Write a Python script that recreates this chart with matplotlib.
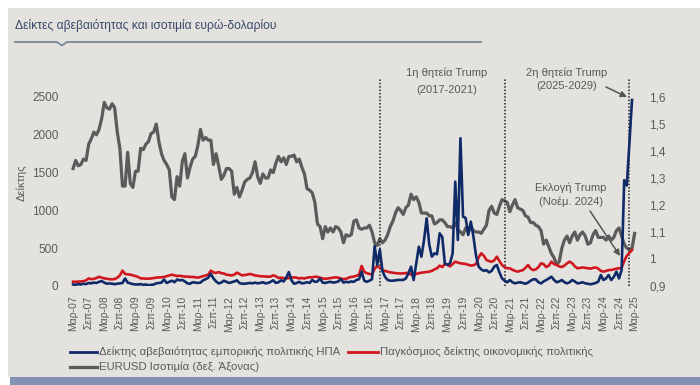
import numpy as np
import matplotlib
matplotlib.use('Agg')
import matplotlib.pyplot as plt
from matplotlib.patches import Rectangle, FancyArrowPatch
from matplotlib.lines import Line2D
from matplotlib import font_manager

names = {f.name for f in font_manager.fontManager.ttflist}
FONT = 'Liberation Sans Narrow' if 'Liberation Sans Narrow' in names else 'Liberation Sans'
plt.rcParams['font.family'] = [FONT, 'DejaVu Sans']

# ---------------- data (monthly, starting Mar-2007) ----------------
title = "Δείκτες αβεβαιότητας και ισοτιμία ευρώ-δολαρίου"
series_names = ["Δείκτης αβεβαιότητας εμπορικής πολιτικής ΗΠΑ",
                "Παγκόσμιος δείκτης οικονομικής πολιτικής",
                "EURUSD Ισοτιμία (δεξ. Άξονας)"]

# US trade policy uncertainty (Mar-07 .. Feb-25)
tpu_us = [
    20, 15, 25, 20, 30, 25, 40, 35, 45, 40,                       # 2007
    55, 65, 45, 30, 35, 30, 25, 30, 35, 40, 100, 45,              # 2008
    35, 25, 20, 20, 25, 15, 20, 10, 15, 20, 35, 40,               # 2009
    45, 85, 40, 55, 70, 50, 85, 75, 80, 60, 35, 30,               # 2010
    50, 45, 40, 45, 75, 90, 110, 160, 100, 60, 35, 45,            # 2011
    70, 55, 40, 50, 60, 75, 40, 30, 30, 35, 40, 35,               # 2012
    45, 35, 40, 50, 35, 40, 55, 75, 40, 50, 75, 60,               # 2013
    110, 185, 75, 30, 40, 55, 35, 40, 50, 40, 80, 55,             # 2014
    60, 100, 45, 40, 50, 55, 45, 50, 60, 90, 45, 55,              # 2015
    50, 60, 55, 80, 90, 190, 70, 55, 70, 90, 530, 280,            # 2016
    480, 200, 120, 80, 70, 70, 75, 80, 80, 80, 100, 168,          # 2017
    256, 79, 300, 520, 388, 609, 895, 550, 388, 432, 420, 697,    # 2018
    650, 300, 280, 300, 432, 1380, 609, 1954, 917, 900, 675, 851, # 2019
    653, 400, 256, 220, 200, 210, 180, 200, 256, 278, 180, 101,   # 2020
    70, 50, 79, 50, 35, 45, 50, 40, 30, 45, 70, 88,               # 2021
    88, 50, 35, 60, 79, 100, 123, 80, 50, 60, 79, 50,             # 2022
    35, 50, 79, 60, 35, 40, 50, 35, 30, 22, 30, 40,               # 2023
    57, 145, 79, 100, 145, 79, 120, 190, 100, 212, 1400, 1330,    # 2024
    1900, 2460,                                                   # 2025
]

# Global economic policy uncertainty (Mar-07 .. Feb-25)
gepu = [
    57, 55, 58, 60, 63, 75, 100, 90, 95, 105,                     # 2007
    123, 110, 101, 95, 90, 88, 92, 110, 140, 203, 159, 154,       # 2008
    150, 140, 132, 120, 101, 100, 97, 97, 100, 105, 110, 115,     # 2009
    115, 120, 130, 140, 150, 140, 132, 135, 130, 123, 125, 120,   # 2010
    120, 115, 110, 120, 130, 140, 150, 203, 180, 172, 185, 170,   # 2011
    165, 150, 145, 140, 150, 176, 160, 140, 145, 150, 160, 150,   # 2012
    140, 135, 130, 128, 125, 123, 125, 140, 130, 106, 110, 105,   # 2013
    100, 105, 110, 115, 110, 100, 105, 100, 110, 115, 115, 123,   # 2014
    120, 110, 100, 95, 100, 105, 110, 115, 110, 100, 90, 95,      # 2015
    110, 120, 125, 135, 150, 265, 190, 168, 160, 150, 230, 265,   # 2016
    240, 212, 200, 190, 180, 176, 170, 168, 165, 168, 170, 176,   # 2017
    150, 145, 160, 170, 176, 180, 185, 190, 200, 220, 234, 270,   # 2018
    250, 291, 280, 260, 290, 322, 310, 300, 295, 291, 280, 270,   # 2019
    275, 290, 380, 432, 400, 344, 330, 320, 340, 388, 330, 278,   # 2020
    250, 234, 234, 215, 200, 190, 200, 210, 240, 278, 230, 210,   # 2021
    220, 250, 300, 290, 250, 270, 322, 290, 278, 260, 250, 270,   # 2022
    300, 322, 300, 260, 234, 240, 245, 240, 234, 230, 240, 245,   # 2023
    230, 200, 190, 200, 210, 212, 220, 230, 234, 240, 330, 400,   # 2024
    440, 476,                                                     # 2025
]

# EURUSD (Mar-07 .. Mar-25)
eurusd = [
    1.335, 1.365, 1.345, 1.350, 1.370, 1.365, 1.425, 1.445, 1.470, 1.460,
    1.480, 1.520, 1.580, 1.560, 1.555, 1.575, 1.560, 1.470, 1.410, 1.270, 1.270, 1.395,
    1.280, 1.265, 1.325, 1.325, 1.410, 1.405, 1.425, 1.435, 1.465, 1.470, 1.500, 1.435,
    1.390, 1.365, 1.350, 1.330, 1.230, 1.220, 1.305, 1.270, 1.360, 1.390, 1.300, 1.340,
    1.370, 1.380, 1.420, 1.480, 1.440, 1.450, 1.440, 1.440, 1.350, 1.390, 1.345, 1.295,
    1.310, 1.335, 1.335, 1.325, 1.240, 1.265, 1.230, 1.255, 1.285, 1.295, 1.300, 1.320,
    1.360, 1.305, 1.280, 1.315, 1.300, 1.300, 1.330, 1.320, 1.355, 1.380, 1.360, 1.375,
    1.350, 1.380, 1.380, 1.385, 1.360, 1.370, 1.340, 1.315, 1.260, 1.255, 1.245, 1.210,
    1.130, 1.120, 1.075, 1.120, 1.100, 1.115, 1.100, 1.120, 1.115, 1.100, 1.060, 1.090,
    1.085, 1.090, 1.140, 1.145, 1.115, 1.110, 1.115, 1.115, 1.125, 1.100, 1.060, 1.050,
    1.075, 1.060, 1.070, 1.090, 1.120, 1.140, 1.170, 1.190, 1.180, 1.165, 1.190, 1.200,
    1.240, 1.220, 1.230, 1.210, 1.170, 1.170, 1.170, 1.160, 1.160, 1.130, 1.135, 1.145,
    1.145, 1.135, 1.120, 1.120, 1.115, 1.135, 1.110, 1.100, 1.090, 1.115, 1.100, 1.120,
    1.105, 1.100, 1.100, 1.095, 1.110, 1.125, 1.180, 1.195, 1.170, 1.165, 1.195, 1.220,
    1.215, 1.210, 1.175, 1.200, 1.220, 1.190, 1.185, 1.180, 1.160, 1.155, 1.135, 1.135,
    1.125, 1.120, 1.105, 1.055, 1.070, 1.045, 1.020, 1.005, 0.980, 0.990, 1.040, 1.070,
    1.085, 1.060, 1.085, 1.100, 1.070, 1.090, 1.100, 1.085, 1.055, 1.060, 1.090, 1.105,
    1.080, 1.080, 1.080, 1.070, 1.085, 1.070, 1.080, 1.105, 1.115, 1.085, 1.055, 1.040,
    1.035, 1.040, 1.095,
]

xtick_labels = [
    "Μαρ-07", "Σεπ-07", "Μαρ-08", "Σεπ-08", "Μαρ-09", "Σεπ-09", "Μαρ-10", "Σεπ-10",
    "Μαρ-11", "Σεπ-11", "Μαρ-12", "Σεπ-12", "Μαρ-13", "Σεπ-13", "Μαρ-14", "Σεπ-14",
    "Μαρ-15", "Σεπ-15", "Μαρ-16", "Σεπ-16", "Μαρ-17", "Σεπ-17", "Μαρ-18", "Σεπ-18",
    "Μαρ-19", "Σεπ-19", "Μαρ-20", "Σεπ-20", "Μαρ-21", "Σεπ-21", "Μαρ-22", "Σεπ-22",
    "Μαρ-23", "Σεπ-23", "Μαρ-24", "Σεπ-24", "Μαρ-25",
]
left_ticks = [0, 500, 1000, 1500, 2000, 2500]
right_ticks = [0.9, 1.0, 1.1, 1.2, 1.3, 1.4, 1.5, 1.6]
right_tick_labels = ["0,9", "1", "1,1", "1,2", "1,3", "1,4", "1,5", "1,6"]
term_lines = [118, 166, 214]   # Jan-17, Jan-21, Jan-25 (month index from Mar-07)

# ---------------- styling ----------------
W, H = 700, 385
BG = '#e4e2de'
C_BLUE = '#0f2a68'
C_RED = '#d0161e'
C_GRAY = '#5b5b5b'
C_TXT = '#5a5a5a'

def fx(px):
    return px / W

def fy(py):
    return 1 - py / H

fig = plt.figure(figsize=(W / 100, H / 100), dpi=100)
fig.patch.set_facecolor('white')
fig.patches.append(Rectangle((fx(8), fy(377)), 1 - fx(8), fy(8) - fy(377),
                             transform=fig.transFigure, facecolor=BG, edgecolor='none', zorder=0))
fig.patches.append(Rectangle((fx(10), 0), 1 - fx(10), fy(377),
                             transform=fig.transFigure, facecolor='#8391b4', edgecolor='none', zorder=0))

# title + rule with notch
fig.text(fx(15), fy(25), title, fontsize=8.7, color='#3b4a6b', va='center', ha='left')
fig.add_artist(Line2D([fx(15), fx(57), fx(62), fx(67), fx(481)],
                      [fy(42), fy(42), fy(45.5), fy(42), fy(42)],
                      transform=fig.transFigure, color='#7a8799', lw=1.3))

ax = fig.add_axes([fx(71), fy(286), fx(638) - fx(71), fy(79) - fy(286)])
ax2 = ax.twinx()
ax.set_zorder(2)
ax2.set_zorder(1)
ax.patch.set_visible(False)
ax2.patch.set_visible(False)

x_main = np.arange(len(tpu_us))
x_fx = np.arange(len(eurusd))

ax2.plot(x_fx, eurusd, color=C_GRAY, lw=2.3, solid_joinstyle='round')
ax.plot(x_main, gepu, color=C_RED, lw=1.9, solid_joinstyle='round')
ax.plot(x_main, tpu_us, color=C_BLUE, lw=1.9, solid_joinstyle='round')

ymax = 2738
ax.set_ylim(0, ymax)
ax2.set_ylim(0.9, 0.9 + 0.7 * ymax / 2500)
ax.set_xlim(-0.8, 217.3)

for xv in term_lines:
    ax.axvline(xv, color='#222222', lw=1.1, ls=(0, (1, 1.2)), zorder=1)

ax.set_yticks(left_ticks)
ax.set_yticklabels([str(v) for v in left_ticks])
ax2.set_yticks(right_ticks)
ax2.set_yticklabels(right_tick_labels)
ax.set_xticks(np.arange(0, 6 * len(xtick_labels), 6))
ax.set_xticklabels(xtick_labels, rotation=90)

ax.tick_params(axis='y', length=0, labelsize=8.5, colors=C_TXT, pad=9)
ax2.tick_params(axis='y', length=0, labelsize=8.5, colors=C_TXT, pad=8)
ax.tick_params(axis='x', length=0, labelsize=7.5, colors=C_TXT, pad=7)
for a in (ax, ax2):
    for s in a.spines.values():
        s.set_visible(False)

ax.set_ylabel("Δείκτης", fontsize=8, color=C_TXT, labelpad=4)

# annotations
fig.text(fx(447), fy(73), "1η θητεία Trump", fontsize=8, color=C_TXT, ha='center', va='center')
fig.text(fx(447), fy(90), "(2017-2021)", fontsize=8, color=C_TXT, ha='center', va='center')
fig.text(fx(567), fy(73), "2η θητεία Trump", fontsize=8, color=C_TXT, ha='center', va='center')
fig.text(fx(567), fy(86), "(2025-2029)", fontsize=8, color=C_TXT, ha='center', va='center')
fig.text(fx(571), fy(188), "Εκλογή Trump", fontsize=8, color=C_TXT, ha='center', va='center')
fig.text(fx(571), fy(202), "(Νοέμ. 2024)", fontsize=8, color=C_TXT, ha='center', va='center')
arrow = dict(arrowstyle='-|>', color='#555555', lw=1.1, mutation_scale=9, shrinkA=0, shrinkB=0)
fig.add_artist(FancyArrowPatch((fx(606), fy(87)), (fx(627), fy(97)),
                               transform=fig.transFigure, **arrow))
fig.add_artist(FancyArrowPatch((fx(590), fy(211)), (fx(620), fy(256)),
                               transform=fig.transFigure, **arrow))

# legend (manual layout)
def leg(x0, x1, y, color, lw, label):
    fig.add_artist(Line2D([fx(x0), fx(x1)], [fy(y), fy(y)], transform=fig.transFigure,
                          color=color, lw=lw))
    fig.text(fx(x1 + 2), fy(y), label, fontsize=8.2, color=C_TXT, ha='left', va='center')

leg(70, 97, 352, C_BLUE, 2.0, series_names[0])
leg(348, 378, 352, C_RED, 2.0, series_names[1])
leg(70, 97, 367, C_GRAY, 2.3, series_names[2])

fig.savefig('out.png', dpi=100, facecolor=fig.get_facecolor())
